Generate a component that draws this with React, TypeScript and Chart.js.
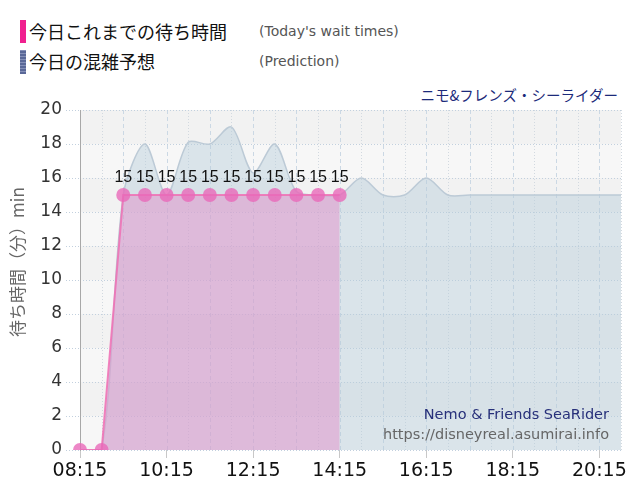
import React, { useEffect, useRef } from "react";
import { Chart, registerables } from "chart.js";

Chart.register(...registerables);

const times = [
  "08:15", "08:45", "09:15", "09:45", "10:15", "10:45", "11:15", "11:45",
  "12:15", "12:45", "13:15", "13:45", "14:15", "14:45", "15:15", "15:45",
  "16:15", "16:45", "17:15", "17:45", "18:15", "18:45", "19:15", "19:45",
  "20:15", "20:45",
];
const tickTimes = ["08:15", "10:15", "12:15", "14:15", "16:15", "18:15", "20:15"];
const actualWait: (number | null)[] = [
  0, 0, 15, 15, 15, 15, 15, 15, 15, 15, 15, 15, 15,
  null, null, null, null, null, null, null, null, null, null, null, null, null,
];
const predictedWait = [
  0, 0, 15, 18, 15, 18.1, 18, 19, 16.3, 18, 15.2, 15, 15,
  16, 15, 15, 16, 15, 15, 15, 15, 15, 15, 15, 15, 15,
];
const yMin = 0;
const yMax = 20;
const yStep = 2;

const LAT = "'DejaVu Sans', Verdana, sans-serif";
const ARIAL = "'Liberation Sans', Arial, sans-serif";
const CJK = "'Noto Sans CJK JP', 'DejaVu Sans', sans-serif";

const gridPlugin = {
  id: "customGrid",
  beforeDraw(chart: any) {
    const { ctx, chartArea, scales } = chart;
    const x = scales.x;
    const y = scales.y;
    ctx.save();
    for (let v = yMin, i = 0; v < yMax; v += yStep, i++) {
      const yb = y.getPixelForValue(v);
      const yt = y.getPixelForValue(v + yStep);
      ctx.fillStyle = i % 2 === 0 ? "#f7f7f7" : "#f2f2f2";
      ctx.fillRect(chartArea.left, yt, chartArea.right - chartArea.left, yb - yt);
    }
    ctx.lineWidth = 1;
    for (let i = 0; i < times.length; i++) {
      const px = Math.round(x.getPixelForValue(i)) + 0.5;
      ctx.strokeStyle = i % 2 === 0 ? "#cbd8e4" : "#d2d9e0";
      ctx.setLineDash(i % 2 === 0 ? [4, 3] : [1, 2]);
      ctx.beginPath();
      ctx.moveTo(px, chartArea.top);
      ctx.lineTo(px, chartArea.bottom);
      ctx.stroke();
    }
    ctx.strokeStyle = "#c2d0de";
    ctx.setLineDash([1, 2]);
    for (let v = yMin; v <= yMax; v += yStep) {
      const py = Math.round(y.getPixelForValue(v)) + 0.5;
      ctx.beginPath();
      ctx.moveTo(chartArea.left, py);
      ctx.lineTo(chartArea.right, py);
      ctx.stroke();
    }
    ctx.restore();
  },
};

const labelPlugin = {
  id: "pointLabels",
  afterDatasetsDraw(chart: any) {
    const { ctx, chartArea } = chart;
    const meta = chart.getDatasetMeta(0);
    ctx.save();
    ctx.font = `16px ${ARIAL}`;
    ctx.fillStyle = "#111";
    ctx.textAlign = "center";
    ctx.textBaseline = "middle";
    meta.data.forEach((pt: any, i: number) => {
      const v = actualWait[i];
      if (v == null || v <= 0) return;
      ctx.fillText(String(v), pt.x, pt.y - 17);
    });
    ctx.textAlign = "right";
    ctx.font = `14.5px ${LAT}`;
    ctx.fillStyle = "#27307a";
    ctx.fillText("Nemo & Friends SeaRider", chartArea.right - 12, chartArea.bottom - 35);
    ctx.fillStyle = "#666";
    ctx.fillText("https://disneyreal.asumirai.info", chartArea.right - 12, chartArea.bottom - 15);
    ctx.save();
    ctx.translate(18, 262);
    ctx.rotate(-Math.PI / 2);
    ctx.textAlign = "center";
    ctx.font = `17px ${CJK}`;
    ctx.fillStyle = "#666";
    ctx.fillText("待ち時間（分）min", 0, 0);
    ctx.restore();
    ctx.restore();
  },
};

export default function App() {
  const ref = useRef<HTMLCanvasElement | null>(null);

  useEffect(() => {
    document.body.style.margin = "0";
    const canvas = ref.current;
    if (!canvas) return;
    const chart = new Chart(canvas, {
      type: "line",
      data: {
        labels: times,
        datasets: [
          {
            label: "今日これまでの待ち時間",
            data: actualWait,
            order: 1,
            borderColor: "rgba(240,110,180,0.85)",
            borderWidth: 2,
            backgroundColor: "rgba(225,143,202,0.5)",
            fill: "origin",
            tension: 0,
            pointRadius: 7,
            pointBorderWidth: 0,
            pointBackgroundColor: "rgba(232,105,185,0.8)",
            spanGaps: false,
          },
          {
            label: "今日の混雑予想",
            data: predictedWait,
            order: 2,
            borderColor: "#bccad6",
            borderWidth: 1.5,
            backgroundColor: "rgba(182,203,218,0.45)",
            fill: "origin",
            tension: 0.3,
            pointRadius: 0,
          },
        ],
      },
      options: {
        animation: false,
        responsive: false,
        layout: { padding: { top: 110, right: 19, bottom: 0, left: 0 } },
        plugins: {
          legend: { display: false },
          tooltip: { enabled: false },
          title: { display: false },
        },
        scales: {
          x: {
            grid: {
              display: true,
              drawOnChartArea: false,
              drawTicks: true,
              tickLength: 8,
              tickColor: (c: any) =>
                tickTimes.includes(times[c.index]) ? "#c8c8c8" : "rgba(0,0,0,0)",
            },
            border: { display: false },
            ticks: {
              autoSkip: false,
              maxRotation: 0,
              minRotation: 0,
              padding: 2,
              color: "#111",
              font: { size: 19, family: LAT },
              callback: (_v: any, i: number) =>
                tickTimes.includes(times[i]) ? times[i] : "",
            },
            afterFit: (s: any) => {
              s.height = 50;
            },
          },
          y: {
            min: yMin,
            max: yMax,
            grid: {
              display: true,
              drawOnChartArea: false,
              drawTicks: true,
              tickLength: 14,
              tickColor: "#c2d0de",
              tickBorderDash: [1, 2],
            },
            border: { display: true, color: "#a8a8a8", width: 1 },
            ticks: {
              stepSize: yStep,
              padding: 4,
              color: "#333",
              font: { size: 17, family: LAT },
            },
            afterFit: (s: any) => {
              s.width = 80;
            },
          },
        },
      },
      plugins: [gridPlugin, labelPlugin],
    });
    return () => chart.destroy();
  }, []);

  const abs = (o: React.CSSProperties): React.CSSProperties => ({
    position: "absolute",
    whiteSpace: "nowrap",
    ...o,
  });

  return (
    <div style={{ position: "relative", width: 640, height: 500, background: "#fff" }}>
      <div style={abs({ left: 20, top: 20, width: 6, height: 23, background: "#f0208f" })} />
      <div
        style={abs({
          left: 20,
          top: 50,
          width: 6,
          height: 24,
          background: "repeating-linear-gradient(0deg,#5a6898 0px,#5a6898 2px,#8590b8 2px,#8590b8 3px)",
        })}
      />
      <div style={abs({ left: 29, top: 19, font: `18px ${CJK}`, lineHeight: "24px", color: "#111" })}>
        今日これまでの待ち時間
      </div>
      <div style={abs({ left: 29, top: 49, font: `18px ${CJK}`, lineHeight: "24px", color: "#111" })}>
        今日の混雑予想
      </div>
      <div style={abs({ left: 259, top: 21, font: `14px ${LAT}`, lineHeight: "20px", color: "#555" })}>
        (Today's wait times)
      </div>
      <div style={abs({ left: 259, top: 51, font: `14px ${LAT}`, lineHeight: "20px", color: "#555" })}>
        (Prediction)
      </div>
      <div
        style={abs({
          right: 22,
          top: 84,
          font: `14.5px ${CJK}`,
          lineHeight: "22px",
          color: "#1c2a7a",
        })}
      >
        ニモ&amp;フレンズ・シーライダー
      </div>
      <canvas ref={ref} width={640} height={500} style={{ position: "absolute", left: 0, top: 0 }} />
    </div>
  );
}
